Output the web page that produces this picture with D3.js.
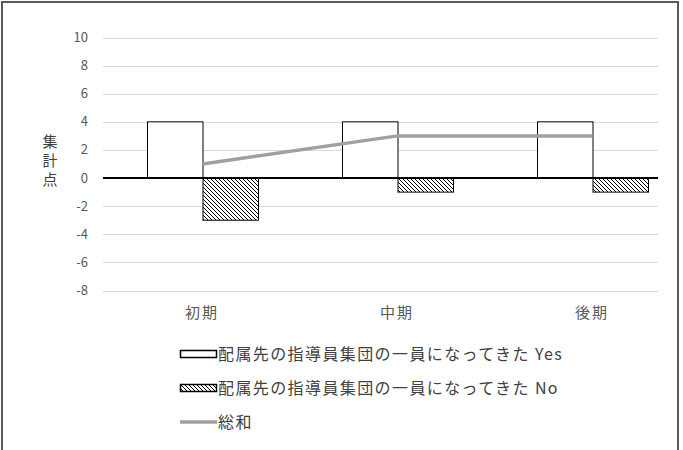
<!DOCTYPE html>
<html>
<head>
<meta charset="utf-8">
<script src="https://cdn.jsdelivr.net/npm/d3@7"></script>
<style>
  body { margin: 0; background: #fff; }
  text { font-family: "Noto Sans CJK JP", "Noto Sans", sans-serif; }
</style>
</head>
<body>
<div id="chart"></div>
<script>
// data
const categories = ["初期", "中期", "後期"];
const yesValues = [4, 4, 4];
const noValues = [-3, -1, -1];
const totalValues = [1, 3, 3];
const yTicks = [10, 8, 6, 4, 2, 0, -2, -4, -6, -8];
const seriesNames = ["配属先の指導員集団の一員になってきた Yes", "配属先の指導員集団の一員になってきた No", "総和"];

const W = 683, H = 450;
const svg = d3.select("#chart").append("svg")
    .attr("width", W)
    .attr("height", H);

// hatch pattern for the "No" bars
const defs = svg.append("defs");
const pat = defs.append("pattern")
    .attr("id", "hatch")
    .attr("patternUnits", "userSpaceOnUse")
    .attr("width", 4)
    .attr("height", 4);
pat.append("rect").attr("width", 4).attr("height", 4).attr("fill", "#fff");
pat.append("path")
    .attr("d", "M-1,-1 L5,5 M-1,3 L1,5 M3,-1 L5,1")
    .attr("stroke", "#000")
    .attr("stroke-width", 1);

// outer frame
svg.append("rect")
    .attr("x", 2).attr("y", 2)
    .attr("width", 676).attr("height", 470)
    .attr("fill", "none")
    .attr("stroke", "#595959")
    .attr("stroke-width", 2);

const plotLeft = 103, plotRight = 658;

const y = d3.scaleLinear().domain([-8, 10]).range([290.5, 37.5]);
// category centres (group centre of the bar pair)
const x = d3.scalePoint().domain(categories).range([202.5, 592.5]);
const barW = 55.5;

// gridlines
svg.append("g")
    .selectAll("line")
    .data(yTicks.filter(d => d !== 0))
    .join("line")
    .attr("x1", plotLeft).attr("x2", plotRight)
    .attr("y1", d => Math.round(y(d)) + 0.5)
    .attr("y2", d => Math.round(y(d)) + 0.5)
    .attr("stroke", "#d9d9d9")
    .attr("stroke-width", 1);

// y tick labels
svg.append("g")
    .selectAll("text")
    .data(yTicks)
    .join("text")
    .attr("x", 88)
    .attr("y", d => y(d))
    .attr("dy", "0.35em")
    .attr("text-anchor", "end")
    .attr("font-size", 13)
    .attr("fill", "#595959")
    .text(d => d);

// y axis title, stacked vertically
const title = "集計点".split("");
svg.append("g")
    .selectAll("text")
    .data(title)
    .join("text")
    .attr("x", 50)
    .attr("y", (d, i) => 142 + i * 19)
    .attr("dy", "0.35em")
    .attr("text-anchor", "middle")
    .attr("font-size", 15)
    .attr("fill", "#404040")
    .text(d => d);

// Yes bars
svg.append("g")
    .selectAll("rect")
    .data(yesValues)
    .join("rect")
    .attr("x", (d, i) => x(categories[i]) - barW + 0.5)
    .attr("y", d => y(d))
    .attr("width", barW)
    .attr("height", d => y(0) - y(d))
    .attr("fill", "#fff")
    .attr("stroke", "#000")
    .attr("stroke-width", 1);

// No bars
svg.append("g")
    .selectAll("rect")
    .data(noValues)
    .join("rect")
    .attr("x", (d, i) => x(categories[i]) + 0.5)
    .attr("y", y(0))
    .attr("width", barW)
    .attr("height", d => y(d) - y(0))
    .attr("fill", "url(#hatch)")
    .attr("stroke", "#000")
    .attr("stroke-width", 1);

// zero axis line
svg.append("line")
    .attr("x1", plotLeft).attr("x2", plotRight)
    .attr("y1", y(0)).attr("y2", y(0))
    .attr("stroke", "#000")
    .attr("stroke-width", 2);

// total line
const line = d3.line()
    .x((d, i) => x(categories[i]))
    .y(d => y(d));
svg.append("path")
    .datum(totalValues)
    .attr("d", line)
    .attr("fill", "none")
    .attr("stroke", "#a0a0a0")
    .attr("stroke-width", 3.5);

// category labels
svg.append("g")
    .selectAll("text")
    .data(categories)
    .join("text")
    .attr("x", d => x(d) - 0.5)
    .attr("y", 313)
    .attr("dy", "0.35em")
    .attr("text-anchor", "middle")
    .attr("font-size", 15)
    .attr("letter-spacing", 2)
    .attr("fill", "#595959")
    .text(d => d);

// legend
const legend = svg.append("g");
const rowY = [354, 388, 422];
seriesNames.forEach((name, i) => {
    const g = legend.append("g").attr("transform", `translate(0,${rowY[i]})`);
    if (i === 0) {
        g.append("rect").attr("x", 180.5).attr("y", -3.5).attr("width", 36).attr("height", 7)
            .attr("fill", "#fff").attr("stroke", "#000").attr("stroke-width", 1.5);
    } else if (i === 1) {
        g.append("rect").attr("x", 180.5).attr("y", -3.5).attr("width", 36).attr("height", 7)
            .attr("fill", "url(#hatch)").attr("stroke", "#000").attr("stroke-width", 1.5);
    } else {
        g.append("line").attr("x1", 180).attr("x2", 217).attr("y1", 0).attr("y2", 0)
            .attr("stroke", "#a0a0a0").attr("stroke-width", 3.5);
    }
    g.append("text")
        .attr("x", 218)
        .attr("y", 0)
        .attr("dy", "0.35em")
        .attr("font-size", 16)
        .attr("letter-spacing", 1.4)
        .attr("fill", "#404040")
        .text(name);
});
</script>
</body>
</html>
